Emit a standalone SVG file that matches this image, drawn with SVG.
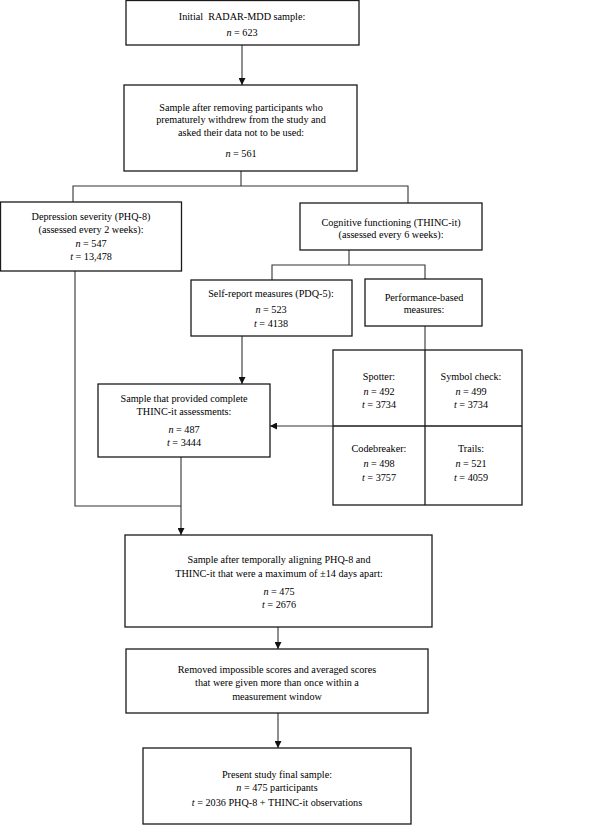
<svg xmlns="http://www.w3.org/2000/svg" width="600" height="825" viewBox="0 0 600 825">
<defs>
<marker id="ah" viewBox="0 0 10 10" refX="10" refY="5" markerWidth="7" markerHeight="7" markerUnits="userSpaceOnUse" orient="auto">
<path d="M0,0 L10,5 L0,10 z" fill="#111"/>
</marker>
<style>
.box{fill:#fff;stroke:#1a1a1a;stroke-width:1.3}
.ln{fill:none;stroke:#333;stroke-width:1.1}
text{font-family:"Liberation Serif","Times New Roman",serif;font-size:10.2px;fill:#000;text-anchor:middle}
.i{font-style:italic}
</style>
</defs>
<rect width="600" height="825" fill="#fff"/>
<g id="connectors">
<line class="ln" x1="242" y1="45" x2="242" y2="85" marker-end="url(#ah)"/>
<polyline class="ln" points="241,171 241,186"/>
<polyline class="ln" points="73,202 73,186 408,186 408,203"/>
<polyline class="ln" points="349,250 349,265"/>
<polyline class="ln" points="272,280 272,265 425,265 425,279"/>
<line class="ln" x1="425" y1="326" x2="425" y2="350"/>
<line class="ln" x1="242" y1="336" x2="242" y2="384" marker-end="url(#ah)"/>
<line class="ln" x1="333" y1="426" x2="270" y2="426" marker-end="url(#ah)"/>
<polyline class="ln" points="75,271 75,506 181,506"/>
<line class="ln" x1="181" y1="457" x2="181" y2="535" marker-end="url(#ah)"/>
<line class="ln" x1="278" y1="627" x2="278" y2="649" marker-end="url(#ah)"/>
<line class="ln" x1="278" y1="713" x2="278" y2="748" marker-end="url(#ah)"/>
</g>
<g id="n1">
<rect class="box" x="126" y="0.5" width="233" height="44.5"/>
<text x="242" y="20" xml:space="preserve">Initial  RADAR-MDD sample:</text>
<text x="242" y="36"><tspan class="i">n</tspan> = 623</text>
</g>
<g id="n2">
<rect class="box" x="124" y="85" width="233" height="86"/>
<text x="241" y="111">Sample after removing participants who</text>
<text x="241" y="123">prematurely withdrew from the study and</text>
<text x="241" y="136">asked their data not to be used:</text>
<text x="241" y="157"><tspan class="i">n</tspan> = 561</text>
</g>
<g id="n3">
<rect class="box" x="0.5" y="202" width="181" height="69"/>
<text x="91" y="220">Depression severity (PHQ-8)</text>
<text x="91" y="233">(assessed every 2 weeks):</text>
<text x="91" y="247"><tspan class="i">n</tspan> = 547</text>
<text x="91" y="260"><tspan class="i">t</tspan> = 13,478</text>
</g>
<g id="n4">
<rect class="box" x="300" y="203" width="182" height="47"/>
<text x="391" y="226">Cognitive functioning (THINC-it)</text>
<text x="391" y="238">(assessed every 6 weeks):</text>
</g>
<g id="n5">
<rect class="box" x="191" y="280" width="161" height="56"/>
<text x="271" y="297">Self-report measures (PDQ-5):</text>
<text x="271" y="313"><tspan class="i">n</tspan> = 523</text>
<text x="271" y="327"><tspan class="i">t</tspan> = 4138</text>
</g>
<g id="n6">
<rect class="box" x="365" y="279" width="117" height="47"/>
<text x="424" y="301">Performance-based</text>
<text x="424" y="313">measures:</text>
</g>
<g id="n7">
<rect class="box" x="333" y="350" width="189" height="155"/>
<line class="box" x1="425" y1="350" x2="425" y2="505"/>
<line class="box" x1="333" y1="426" x2="522" y2="426"/>
<text x="379" y="380">Spotter:</text>
<text x="379" y="395"><tspan class="i">n</tspan> = 492</text>
<text x="379" y="408"><tspan class="i">t</tspan> = 3734</text>
<text x="471" y="380">Symbol check:</text>
<text x="471" y="395"><tspan class="i">n</tspan> = 499</text>
<text x="471" y="408"><tspan class="i">t</tspan> = 3734</text>
<text x="379" y="452">Codebreaker:</text>
<text x="379" y="467"><tspan class="i">n</tspan> = 498</text>
<text x="379" y="481"><tspan class="i">t</tspan> = 3757</text>
<text x="471" y="452">Trails:</text>
<text x="471" y="467"><tspan class="i">n</tspan> = 521</text>
<text x="471" y="481"><tspan class="i">t</tspan> = 4059</text>
</g>
<g id="n8">
<rect class="box" x="98" y="384" width="172" height="73"/>
<text x="184" y="402">Sample that provided complete</text>
<text x="184" y="415">THINC-it assessments:</text>
<text x="184" y="433"><tspan class="i">n</tspan> = 487</text>
<text x="184" y="446"><tspan class="i">t</tspan> = 3444</text>
</g>
<g id="n9">
<rect class="box" x="125" y="535" width="307" height="92"/>
<text x="279" y="563">Sample after temporally aligning PHQ-8 and</text>
<text x="279" y="577">THINC-it that were a maximum of ±14 days apart:</text>
<text x="279" y="595"><tspan class="i">n</tspan> = 475</text>
<text x="279" y="608"><tspan class="i">t</tspan> = 2676</text>
</g>
<g id="n10">
<rect class="box" x="126" y="649" width="302" height="64"/>
<text x="277" y="673">Removed impossible scores and averaged scores</text>
<text x="277" y="686">that were given more than once within a</text>
<text x="277" y="700">measurement window</text>
</g>
<g id="n11">
<rect class="box" x="143" y="748" width="268" height="76"/>
<text x="277" y="778">Present study final sample:</text>
<text x="277" y="791"><tspan class="i">n</tspan> = 475 participants</text>
<text x="277" y="806"><tspan class="i">t</tspan> = 2036 PHQ-8 + THINC-it observations</text>
</g>
</svg>
